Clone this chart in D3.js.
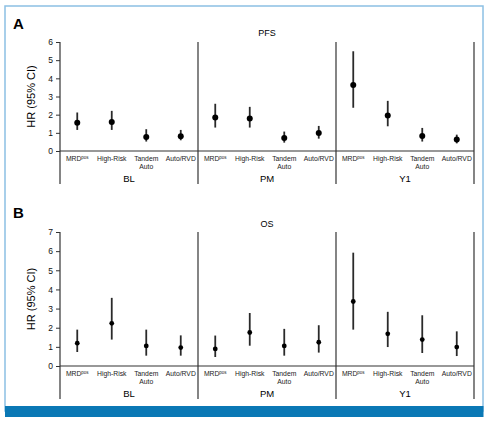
<!DOCTYPE html>
<html lang="en">
<head>
<meta charset="UTF-8">
<title>HR forest panels</title>
<script src="https://d3js.org/d3.v7.min.js"></script>
<style>
  body { margin: 0; background: #fff; }
  svg { font-family: "Liberation Sans", Arial, sans-serif; display: block; }
  .tick text { font-size: 8.5px; fill: #111; }
  .cat { font-size: 6.8px; fill: #222; text-anchor: middle; }
  .grp { font-size: 9.5px; fill: #000; text-anchor: middle; }
  .ttl { font-size: 9px; fill: #000; text-anchor: middle; }
  .ylab { font-size: 11px; fill: #000; text-anchor: middle; }
  .letter { font-size: 15px; font-weight: bold; fill: #000; }
</style>
</head>
<body>
<div id="chart"></div>
<script>
const groups = ["BL", "PM", "Y1"];
const categories = ["MRD", "High-Risk", "Tandem Auto", "Auto/RVD"];

// PFS hazard ratios, order: BL x4, PM x4, Y1 x4
const pfsHR   = [1.56, 1.60, 0.77, 0.81, 1.84, 1.79, 0.72, 0.99, 3.63, 1.95, 0.83, 0.63];
const pfsLow  = [1.16, 1.16, 0.52, 0.59, 1.29, 1.29, 0.46, 0.68, 2.38, 1.36, 0.52, 0.42];
const pfsHigh = [2.12, 2.21, 1.20, 1.16, 2.60, 2.43, 1.07, 1.38, 5.49, 2.76, 1.27, 0.90];

// OS hazard ratios
const osHR   = [1.19, 2.23, 1.05, 0.96, 0.89, 1.75, 1.05, 1.24, 3.37, 1.68, 1.38, 0.99];
const osLow  = [0.73, 1.38, 0.54, 0.54, 0.47, 1.06, 0.54, 0.70, 1.90, 0.99, 0.68, 0.52];
const osHigh = [1.90, 3.56, 1.90, 1.60, 1.59, 2.77, 1.94, 2.13, 5.92, 2.83, 2.65, 1.81];

const pfsTicks = [0, 1, 2, 3, 4, 5, 6];
const osTicks = [0, 1, 2, 3, 4, 5, 6, 7];

const W = 489, H = 421;
const svg = d3.select("#chart").append("svg").attr("width", W).attr("height", H);

// frame and bottom bar
svg.append("rect").attr("x", 5).attr("y", 6).attr("width", 478).attr("height", 405)
   .attr("fill", "none").attr("stroke", "#8cc0e4").attr("stroke-width", 1.5);
svg.append("rect").attr("x", 5).attr("y", 406).attr("width", 478.5).attr("height", 11)
   .attr("fill", "#0a78b5");

const keys = [];
groups.forEach(g => categories.forEach(c => keys.push(g + "|" + c)));

const x = d3.scaleBand().domain(keys).range([60, 474]).padding(0);
const xg = d3.scaleBand().domain(groups).range([60, 474]).padding(0);

function panel(opt) {
  const { letter, title, yMax, ticks, hr, lo, hi, top, bottom, r, letterY, titleY } = opt;
  const y = d3.scaleLinear().domain([0, yMax]).range([bottom, top]);
  const g = svg.append("g");
  const ext = bottom + 33;

  g.append("text").attr("class", "letter").attr("x", 13).attr("y", letterY).text(letter);
  g.append("text").attr("class", "ttl").attr("x", 267).attr("y", titleY).text(title);

  const ax = g.append("g").attr("transform", "translate(60,0)")
    .call(d3.axisLeft(y).tickValues(ticks).tickSize(4).tickPadding(3).tickFormat(d3.format("d")));
  ax.select(".domain").remove();
  ax.selectAll(".tick line").attr("stroke", "#333");

  g.append("text").attr("class", "ylab")
    .attr("transform", `translate(35,${(top + bottom) / 2}) rotate(-90)`)
    .text("HR (95% CI)");

  // axis, left line and group dividers
  g.append("line").attr("x1", 60).attr("x2", 474).attr("y1", bottom).attr("y2", bottom)
    .attr("stroke", "#333").attr("stroke-width", 1.2);
  const bounds = [60].concat(groups.map(d => xg(d) + xg.bandwidth()));
  g.selectAll(".div").data(bounds).enter().append("line")
    .attr("x1", d => d).attr("x2", d => d).attr("y1", top).attr("y2", ext)
    .attr("stroke", "#333").attr("stroke-width", 1.2);

  // error bars and points
  g.selectAll(".ci").data(keys).enter().append("line")
    .attr("x1", d => x(d) + x.bandwidth() / 2).attr("x2", d => x(d) + x.bandwidth() / 2)
    .attr("y1", (d, i) => y(lo[i])).attr("y2", (d, i) => y(hi[i]))
    .attr("stroke", "#2a2a2a").attr("stroke-width", 1.8);
  g.selectAll(".pt").data(keys).enter().append("circle")
    .attr("cx", d => x(d) + x.bandwidth() / 2).attr("cy", (d, i) => y(hr[i]))
    .attr("r", r).attr("fill", "#000");

  // category labels
  keys.forEach(k => {
    const c = k.split("|")[1];
    const cx = x(k) + x.bandwidth() / 2;
    const t = g.append("text").attr("class", "cat").attr("x", cx).attr("y", bottom + 10);
    if (c === "MRD") {
      t.append("tspan").text("MRD");
      t.append("tspan").attr("font-size", "4.5px").attr("dy", -2.5).text("pos");
    } else if (c === "Tandem Auto") {
      t.text("Tandem");
      g.append("text").attr("class", "cat").attr("x", cx).attr("y", bottom + 18).text("Auto");
    } else {
      t.text(c);
    }
  });

  g.selectAll(".grp").data(groups).enter().append("text").attr("class", "grp")
    .attr("x", d => xg(d) + xg.bandwidth() / 2).attr("y", bottom + 31).text(d => d);
}

panel({ letter: "A", title: "PFS", yMax: 6, ticks: pfsTicks, hr: pfsHR, lo: pfsLow, hi: pfsHigh,
        top: 42, bottom: 151, r: 3, letterY: 29, titleY: 36 });
panel({ letter: "B", title: "OS", yMax: 7, ticks: osTicks, hr: osHR, lo: osLow, hi: osHigh,
        top: 232, bottom: 366, r: 2.4, letterY: 218, titleY: 227 });
</script>
</body>
</html>
